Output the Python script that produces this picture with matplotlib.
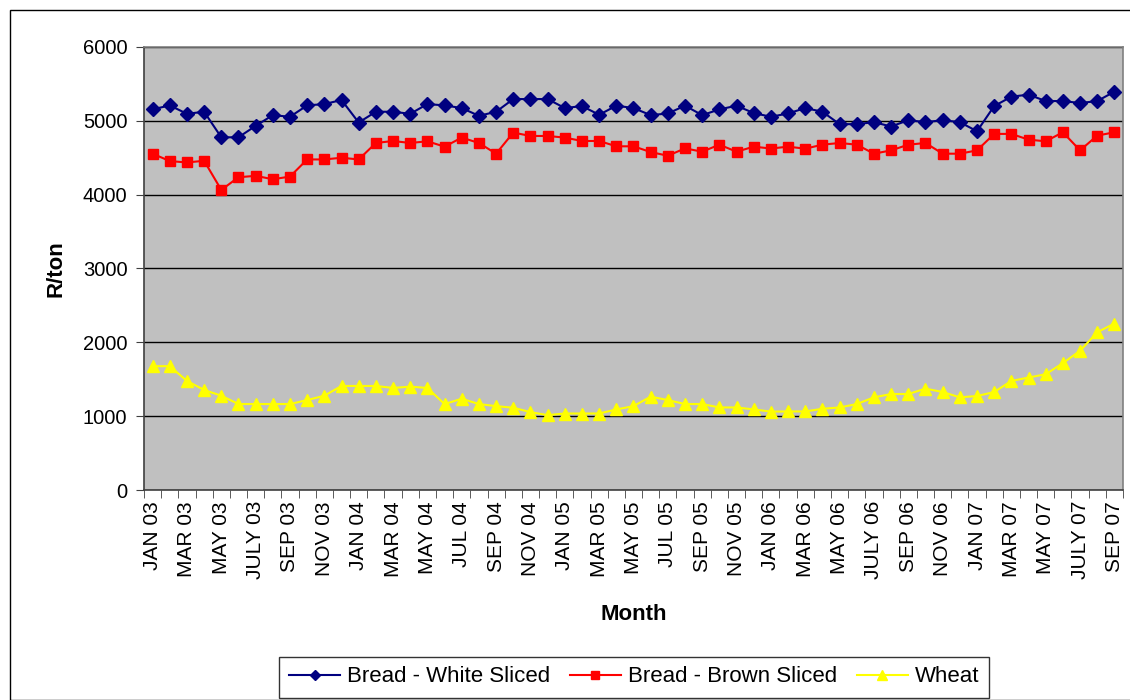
import matplotlib
matplotlib.use("Agg")
import matplotlib.pyplot as plt
from matplotlib.patches import Rectangle
import numpy as np

months = []
_mn = ["JAN", "FEB", "MAR", "APR", "MAY", "JUN", "JUL", "AUG", "SEP", "OCT", "NOV", "DEC"]
for _y in ["03", "04", "05", "06", "07"]:
    for _m in _mn:
        months.append(f"{_m} {_y}")
months = months[:57]

tick_labels = ["JAN 03", "MAR 03", "MAY 03", "JULY 03", "SEP 03", "NOV 03",
               "JAN 04", "MAR 04", "MAY 04", "JUL 04", "SEP 04", "NOV 04",
               "JAN 05", "MAR 05", "MAY 05", "JUL 05", "SEP 05", "NOV 05",
               "JAN 06", "MAR 06", "MAY 06", "JULY 06", "SEP 06", "NOV 06",
               "JAN 07", "MAR 07", "MAY 07", "JULY 07", "SEP 07"]

white = [5155, 5209, 5095, 5123, 4777, 4777, 4932, 5077, 5055, 5209,
         5227, 5282, 4977, 5123, 5123, 5095, 5227, 5209, 5173, 5068,
         5123, 5295, 5295, 5295, 5173, 5200, 5082, 5205, 5173, 5077,
         5100, 5205, 5077, 5155, 5205, 5105, 5055, 5100, 5173, 5123,
         4955, 4955, 4982, 4923, 5009, 4982, 5009, 4982, 4859, 5200,
         5327, 5355, 5268, 5268, 5241, 5268, 5395]

brown = [4555, 4455, 4436, 4459, 4064, 4236, 4255, 4209, 4245, 4477,
         4477, 4500, 4477, 4700, 4727, 4700, 4723, 4650, 4773, 4700,
         4555, 4841, 4795, 4795, 4773, 4727, 4727, 4655, 4655, 4577,
         4527, 4627, 4582, 4677, 4582, 4650, 4625, 4650, 4623, 4677,
         4700, 4677, 4555, 4600, 4677, 4700, 4555, 4555, 4600, 4823,
         4823, 4745, 4723, 4845, 4600, 4800, 4845]

wheat = [1677, 1677, 1477, 1355, 1277, 1164, 1164, 1164, 1164, 1218,
         1277, 1409, 1409, 1409, 1382, 1400, 1382, 1164, 1236, 1164,
         1136, 1114, 1055, 1014, 1036, 1036, 1036, 1091, 1136, 1264,
         1218, 1164, 1164, 1118, 1118, 1091, 1062, 1064, 1064, 1100,
         1118, 1164, 1255, 1300, 1300, 1373, 1327, 1255, 1273, 1327,
         1477, 1523, 1568, 1718, 1886, 2136, 2255]

fig = plt.figure(figsize=(11.3, 7.0), dpi=100)
plt.rcParams['font.family'] = ['Liberation Sans', 'DejaVu Sans']

# outer chart border
fig.patches.append(Rectangle((10 / 1130, 0.0), 1.0, 1 - 10 / 700, transform=fig.transFigure,
                             fill=False, edgecolor='black', linewidth=1.0))

ax = fig.add_axes([144 / 1130, 1 - 490 / 700, (1123 - 144) / 1130, (490 - 47) / 700])
ax.set_facecolor('#C0C0C0')

x = np.arange(len(months))
ax.plot(x, white, color='#000080', marker='D', markersize=7, linewidth=1.5,
        label='Bread - White Sliced')
ax.plot(x, brown, color='#FF0000', marker='s', markersize=7, linewidth=1.5,
        label='Bread - Brown Sliced')
ax.plot(x, wheat, color='#FFFF00', marker='^', markersize=9, linewidth=1.5,
        label='Wheat')

ax.set_xlim(-0.5, len(months) - 0.5)
ax.set_ylim(0, 6000)
ax.set_yticks(range(0, 6001, 1000))
ax.yaxis.grid(True, color='black', linewidth=1.0)
ax.set_axisbelow(True)

ax.set_xticks(x[::2])
ax.set_xticklabels(tick_labels, rotation=90, fontsize=15)
ax.set_xticks(np.arange(-0.5, len(months), 1), minor=True)
ax.tick_params(axis='x', which='major', length=0, pad=8)
ax.tick_params(axis='x', which='minor', length=6, color='#404040')
ax.tick_params(axis='y', labelsize=14.5, length=6, color='#404040', pad=6)

for s in ['left', 'bottom']:
    ax.spines[s].set_color('#404040')
    ax.spines[s].set_linewidth(1.2)
for s in ['top', 'right']:
    ax.spines[s].set_color('#808080')
    ax.spines[s].set_linewidth(1.2)

ax.set_ylabel('R/ton', fontsize=16, fontweight='bold', labelpad=12)
ax.set_xlabel('Month', fontsize=16, fontweight='bold', labelpad=18)

leg = fig.legend(loc='center', bbox_to_anchor=(634 / 1130, 1 - 677 / 700), ncol=3,
                 fontsize=16, frameon=True, fancybox=False, edgecolor='black',
                 handlelength=2.3, columnspacing=0.9, handletextpad=0.3,
                 borderpad=0.45, markerscale=0.8)
leg.get_frame().set_linewidth(1.0)

fig.savefig('out.png', dpi=100)
